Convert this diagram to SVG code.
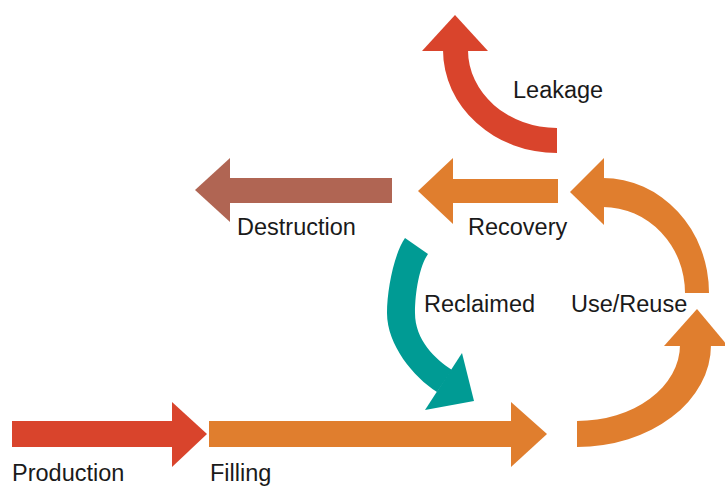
<svg xmlns="http://www.w3.org/2000/svg" width="725" height="487" viewBox="0 0 725 487">
<style>
.red{fill:#D9442C}
.orange{fill:#E07E2E}
.brown{fill:#B06553}
.teal{fill:#009B94}
.lbl{font-family:"Liberation Sans",Arial,sans-serif;font-size:23.5px;fill:#1a1a1a}
</style>
<rect width="725" height="487" fill="#ffffff"/>
<g id="connectors">
<g id="production-arrow" class="red">
<rect x="12" y="421" width="161" height="26"/>
<polygon points="172,402 172,467 207,434"/>
</g>
<g id="filling-arrow" class="orange">
<rect x="209" y="421" width="303" height="26"/>
<polygon points="511,402 511,467 547,434"/>
</g>
<g id="use-arrow-lower" class="orange">
<path d="M577,447 A134,102 0 0 0 711,345 L680,345 A103,76 0 0 1 577,421 Z"/>
<polygon points="664,346 728,346 697,309"/>
</g>
<g id="use-arrow-upper" class="orange">
<path d="M709,293 A106,115 0 0 0 603,178 L603,207 A82,86 0 0 1 685,293 Z"/>
<polygon points="604,158 604,225 570,192"/>
</g>
<g id="recovery-arrow" class="orange">
<rect x="452" y="179" width="106" height="24"/>
<polygon points="453,158 453,224 418,191"/>
</g>
<g id="destruction-arrow" class="brown">
<rect x="229" y="178" width="163" height="25"/>
<polygon points="230,158 230,222 195,190"/>
</g>
<g id="leakage-arrow" class="red">
<path d="M557,153 A114,103 0 0 1 443,50 L468,50 A89,78 0 0 0 557,128 Z"/>
<polygon points="422,51 488,51 455,15"/>
</g>
<g id="reclaimed-arrow" class="teal">
<path d="M405,238 C394,254 387,290 387,313 C387,345 413.5,377 437,392 L452,370 C435,359 415,340 415,313 C415,292 419.5,266 428,254 Z"/>
<polygon points="462,353 474,401 425,410"/>
</g>
</g>
<g id="node-leakage"><text class="lbl" x="513" y="98">Leakage</text></g>
<g id="node-destruction"><text class="lbl" x="237" y="235">Destruction</text></g>
<g id="node-recovery"><text class="lbl" x="468" y="235">Recovery</text></g>
<g id="node-reclaimed"><text class="lbl" x="424" y="312">Reclaimed</text></g>
<g id="node-usereuse"><text class="lbl" x="571" y="312">Use/Reuse</text></g>
<g id="node-production"><text class="lbl" x="12" y="481">Production</text></g>
<g id="node-filling"><text class="lbl" x="210" y="481">Filling</text></g>
</svg>
